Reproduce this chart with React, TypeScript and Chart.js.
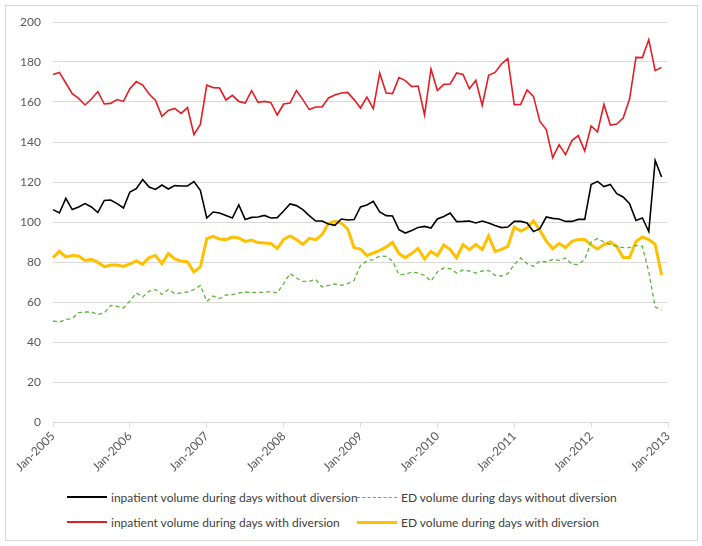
import { useEffect, useRef } from "react";
import { Chart, registerables } from "chart.js";

Chart.register(...registerables);

const months = ["Jan", "Feb", "Mar", "Apr", "May", "Jun", "Jul", "Aug", "Sep", "Oct", "Nov", "Dec"];
const years = [2005, 2006, 2007, 2008, 2009, 2010, 2011, 2012];
const lastLabel = "Jan-2013";

// monthly values Jan-2005 .. Dec-2012
const inpatientWithout = [
  106.2, 104.5, 111.8, 106.2, 107.5, 109.2, 107.5, 104.7, 110.8, 111, 109.2, 107,
  115, 116.7, 121.2, 117.5, 116.3, 118.5, 116.5, 118.2, 118, 118, 120.2, 115.8,
  102, 105, 104.5, 103.3, 102, 108.5, 101.3, 102.3, 102.5, 103.3, 102, 102.2,
  105.5, 109, 108.2, 106.2, 103.2, 100.5, 100.5, 99, 98.3, 101.5, 101, 101.2,
  107.5, 108.5, 110.3, 105, 103.2, 103, 96.2, 94.5, 95.8, 97.3, 97.8, 97,
  101.5, 102.8, 104.5, 100.2, 100.3, 100.5, 99.5, 100.5, 99.5, 98.2, 97.2, 97.5,
  100.3, 100.3, 99.5, 95.2, 96.7, 102.5, 101.8, 101.5, 100.3, 100.3, 101.3, 101.3,
  118.7, 120.3, 117.7, 118.8, 114.2, 112.5, 109.2, 100.8, 102, 95.2, 130.8, 122.5,
];

const inpatientWith = [
  173.7, 174.8, 169.5, 164.2, 161.8, 158.5, 161.5, 165.2, 159, 159.3, 161.2, 160.3,
  166.7, 170.2, 168.5, 164, 160.8, 152.8, 155.8, 156.8, 154.3, 157.2, 143.7, 148.8,
  168.5, 167.2, 167, 161, 163.3, 160.3, 159.5, 165.7, 159.8, 160.3, 159.8, 153.5,
  159, 159.5, 165.7, 161.2, 156.2, 157.5, 157.5, 162, 163.5, 164.5, 164.8, 161.2,
  157, 162.5, 156.7, 174.5, 164.5, 164.2, 172.2, 170.7, 167.7, 168, 153.5, 176.5,
  165.7, 168.8, 169, 174.5, 173.8, 166.6, 170.8, 158.3, 173.3, 174.8, 179, 181.7,
  158.7, 158.8, 166, 162.8, 150.3, 146.2, 132.2, 138.7, 133.7, 140.7, 143.2, 135.5,
  148, 145, 158.8, 148.5, 149, 152, 161.5, 182.3, 182.2, 191.2, 175.7, 177.3,
];

const edWithout = [
  50.5, 50, 51.3, 51.7, 54.7, 55, 55, 53.7, 54.5, 58.3, 57.8, 57,
  60.5, 64.5, 62.5, 65.5, 66.2, 63.8, 66.2, 64.2, 64.5, 65, 66.2, 68.3,
  60.3, 63, 61.7, 63.5, 63.7, 64.5, 65, 64.7, 64.8, 64.8, 65.2, 64.5,
  69.2, 74.2, 72, 70.3, 70.3, 71.3, 67.5, 68.3, 69, 68.3, 69.2, 70.8,
  78.3, 80.5, 81.2, 83, 82.8, 80.5, 73.7, 73.8, 75, 74.5, 73.3, 70.5,
  75, 77, 76.7, 74.5, 76, 75.5, 74.5, 75.5, 75.8, 73.3, 73, 74.2,
  78.7, 82, 79.2, 77.8, 80.5, 80, 81.3, 80.8, 82, 78.8, 78.7, 81.2,
  90, 91.7, 90, 88.7, 87.8, 87.2, 87.2, 88.3, 87.8, 75, 57.5, 56,
];

const edWith = [
  82.2, 85.3, 82.5, 83.3, 83, 80.8, 81.3, 79.8, 77.7, 78.5, 78.5, 77.8,
  79, 80.5, 78.8, 82.2, 83.3, 79.2, 84.2, 81.5, 80.5, 80, 75, 77.5,
  91.7, 92.8, 91.5, 91.2, 92.5, 92, 90.3, 91, 89.7, 89.5, 89.3, 86.7,
  91.3, 93, 91.2, 88.8, 91.8, 91.2, 93.7, 99.2, 100.3, 99.5, 96.5, 87.2,
  86.5, 83.3, 84.5, 85.8, 87.5, 89.8, 84.2, 82.2, 84.3, 86.8, 81.5, 85.3,
  83.2, 88.5, 86.2, 82, 88.7, 86.2, 88.8, 86.2, 93, 85.3, 86.3, 87.8,
  97.5, 95.5, 97, 100.5, 95.8, 90.5, 86.7, 89.2, 87.2, 90.3, 91.3, 91.2,
  88.5, 86.5, 88.7, 90, 87.8, 82.2, 82.2, 90.3, 92.5, 91.2, 88.8, 73.5,
];

const labels: string[] = [];
years.forEach((y) => months.forEach((m) => labels.push(`${m}-${y}`)));
labels.push(lastLabel);

const FONT = "Lato, 'Open Sans', sans-serif";
const TEXT = "#595959";
const GRID = "#d9d9d9";

const legendItems = [
  { label: "inpatient volume during days without diversion", color: "#000000", width: 2, dash: false, left: 67, top: 497 },
  { label: "ED volume during days without diversion", color: "#5db53c", width: 1.5, dash: true, left: 357, top: 497 },
  { label: "inpatient volume during days with diversion", color: "#e31d24", width: 2, dash: false, left: 67, top: 522 },
  { label: "ED volume during days with diversion", color: "#ffc000", width: 3, dash: false, left: 357, top: 522 },
];

export default function App() {
  const chartRef = useRef<HTMLCanvasElement | null>(null);
  const chartInstance = useRef<Chart | null>(null);

  useEffect(() => {
    document.body.style.margin = "0";
    if (!chartRef.current) return;
    if (chartInstance.current) chartInstance.current.destroy();

    chartInstance.current = new Chart(chartRef.current, {
      type: "line",
      data: {
        labels,
        datasets: [
          {
            label: "inpatient volume during days without diversion",
            data: inpatientWithout,
            borderColor: "#000000",
            borderWidth: 1.6,
            pointRadius: 0,
            tension: 0,
          },
          {
            label: "ED volume during days without diversion",
            data: edWithout,
            borderColor: "#5db53c",
            borderWidth: 1.3,
            borderDash: [4, 3],
            pointRadius: 0,
            tension: 0,
          },
          {
            label: "inpatient volume during days with diversion",
            data: inpatientWith,
            borderColor: "#e31d24",
            borderWidth: 1.6,
            pointRadius: 0,
            tension: 0,
          },
          {
            label: "ED volume during days with diversion",
            data: edWith,
            borderColor: "#ffc000",
            borderWidth: 3,
            pointRadius: 0,
            tension: 0,
          },
        ],
      },
      options: {
        animation: false,
        responsive: true,
        maintainAspectRatio: false,
        layout: { padding: { top: 22, right: 34, left: 0, bottom: 0 } },
        plugins: {
          legend: { display: false },
          tooltip: { enabled: false },
        },
        scales: {
          x: {
            offset: false,
            grid: {
              drawOnChartArea: false,
              drawTicks: true,
              tickLength: 5,
              color: GRID,
            },
            border: { color: GRID, width: 1 },
            ticks: {
              autoSkip: false,
              minRotation: 45,
              maxRotation: 45,
              padding: 2,
              color: TEXT,
              font: { family: FONT, size: 12 },
              callback: function (_v, i) {
                return i % 12 === 0 ? labels[i] : null;
              },
            },
            afterFit: (scale) => {
              scale.height = 63;
            },
          },
          y: {
            min: 0,
            max: 200,
            grid: { color: GRID, drawTicks: false },
            border: { display: false },
            ticks: {
              stepSize: 20,
              padding: 12,
              color: TEXT,
              font: { family: FONT, size: 12 },
            },
            afterFit: (scale) => {
              scale.width = 53;
            },
          },
        },
      },
    });

    return () => {
      if (chartInstance.current) {
        chartInstance.current.destroy();
        chartInstance.current = null;
      }
    };
  }, []);

  return (
    <div style={{ position: "relative", width: 702, height: 546, background: "#fff", fontFamily: FONT }}>
      <div
        style={{
          position: "absolute",
          left: 5,
          top: 5,
          width: 691,
          height: 534,
          border: `1px solid ${GRID}`,
        }}
      />
      <div style={{ position: "absolute", left: 0, top: 0, width: 702, height: 485 }}>
        <canvas ref={chartRef} />
      </div>
      {legendItems.map((item) => (
        <div
          key={item.label}
          style={{
            position: "absolute",
            left: item.left,
            top: item.top - 9,
            height: 18,
            display: "flex",
            alignItems: "center",
            whiteSpace: "nowrap",
          }}
        >
          <span
            style={{
              display: "inline-block",
              width: 40,
              height: 0,
              borderTop: `${item.width}px ${item.dash ? "dashed" : "solid"} ${item.color}`,
              marginRight: 4,
            }}
          />
          <span style={{ fontSize: 12, color: "#404040" }}>{item.label}</span>
        </div>
      ))}
    </div>
  );
}
